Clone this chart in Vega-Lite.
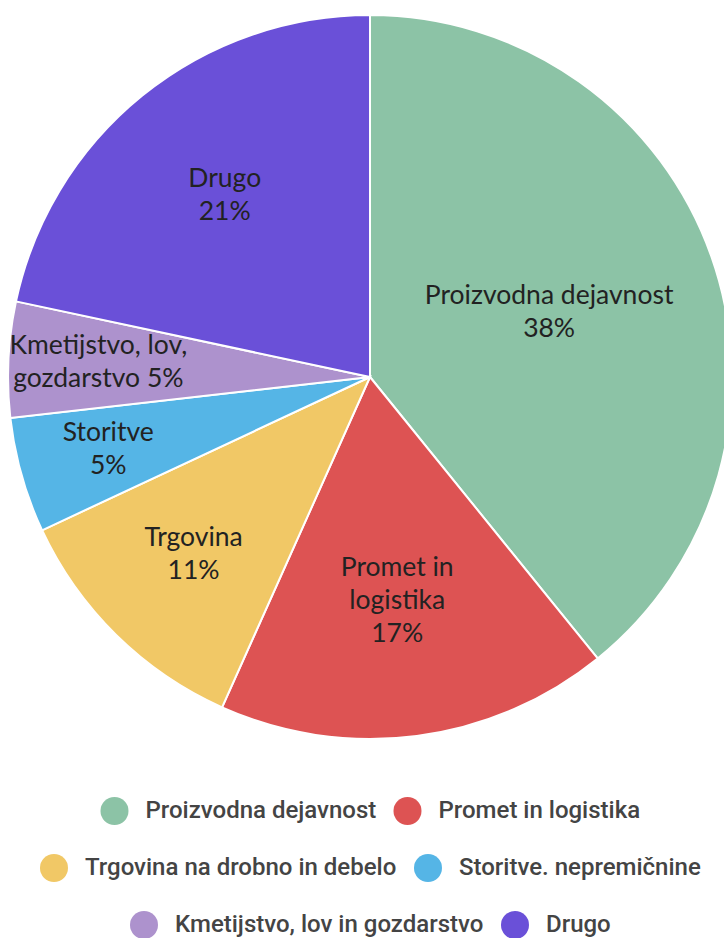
{
  "$schema": "https://vega.github.io/schema/vega-lite/v6.json",
  "width": 724,
  "height": 724,
  "padding": {"left": 4, "top": 11, "right": 0, "bottom": 0},
  "background": "white",
  "data": {
    "values": [
      {"idx": 1, "category": "Proizvodna dejavnost", "label": "Proizvodna dejavnost\n38%", "value": 38},
      {"idx": 2, "category": "Promet in logistika", "label": "Promet in\nlogistika\n17%", "value": 17},
      {"idx": 3, "category": "Trgovina na drobno in debelo", "label": "Trgovina\n11%", "value": 11},
      {"idx": 4, "category": "Storitve. nepremičnine", "label": "Storitve\n5%", "value": 5},
      {"idx": 5, "category": "Kmetijstvo, lov in gozdarstvo", "label": "Kmetijstvo, lov,\ngozdarstvo  5%", "value": 5},
      {"idx": 6, "category": "Drugo", "label": "Drugo\n21%", "value": 21}
    ]
  },
  "layer": [
    {
      "mark": {"type": "arc", "stroke": "white", "strokeWidth": 2},
      "encoding": {
        "theta": {"field": "value", "type": "quantitative", "stack": true},
        "order": {"field": "idx", "type": "quantitative"},
        "color": {
          "field": "category",
          "type": "nominal",
          "scale": {
            "domain": ["Proizvodna dejavnost", "Promet in logistika", "Trgovina na drobno in debelo", "Storitve. nepremičnine", "Kmetijstvo, lov in gozdarstvo", "Drugo"],
            "range": ["#8cc3a6", "#dd5353", "#f1c866", "#55b5e6", "#ad92cd", "#6a50d8"]
          },
          "legend": {"values": ["Proizvodna dejavnost", "Promet in logistika"], "title": null, "orient": "bottom", "direction": "horizontal"}
        }
      }
    },
    {
      "transform": [{"filter": {"field": "category", "oneOf": ["Trgovina na drobno in debelo", "Storitve. nepremičnine"]}}],
      "mark": {"type": "arc", "opacity": 0},
      "encoding": {
        "theta": {"field": "value", "type": "quantitative", "stack": true},
        "order": {"field": "idx", "type": "quantitative"},
        "color": {
          "field": "category",
          "type": "nominal",
          "scale": {"domain": ["Trgovina na drobno in debelo", "Storitve. nepremičnine"], "range": ["#f1c866", "#55b5e6"]},
          "legend": {"title": null, "orient": "bottom", "direction": "horizontal"}
        }
      }
    },
    {
      "transform": [{"filter": {"field": "category", "oneOf": ["Kmetijstvo, lov in gozdarstvo", "Drugo"]}}],
      "mark": {"type": "arc", "opacity": 0},
      "encoding": {
        "theta": {"field": "value", "type": "quantitative", "stack": true},
        "order": {"field": "idx", "type": "quantitative"},
        "color": {
          "field": "category",
          "type": "nominal",
          "scale": {"domain": ["Kmetijstvo, lov in gozdarstvo", "Drugo"], "range": ["#ad92cd", "#6a50d8"]},
          "legend": {"title": null, "orient": "bottom", "direction": "horizontal"}
        }
      }
    },
    {
      "mark": {"type": "text", "font": "Lato", "fontSize": 26.5, "lineBreak": "\n", "lineHeight": 33, "dy": -18, "fill": "#222222"},
      "encoding": {
        "theta": {"field": "value", "type": "quantitative", "stack": true},
        "order": {"field": "idx", "type": "quantitative"},
        "radius": {
          "field": "value",
          "type": "nominal",
          "scale": {
            "type": "point",
            "domain": [38, 17, 21, 11, 5],
            "range": [190, 272],
            "padding": 0
          },
          "legend": null
        },
        "text": {"field": "label"}
      }
    }
  ],
  "resolve": {"scale": {"color": "independent"}, "legend": {"color": "independent"}},
  "config": {
    "view": {"stroke": null},
    "legend": {
      "layout": {"bottom": {"direction": "vertical", "anchor": "middle", "center": true, "margin": 29, "offset": 58}},
      "offset": 58,
      "symbolType": "circle",
      "symbolSize": 784,
      "symbolStrokeWidth": 0,
      "symbolOpacity": 1,
      "labelFont": "Roboto",
      "labelFontSize": 24,
      "labelFontWeight": 500,
      "labelColor": "#444444",
      "labelOffset": 17,
      "columnPadding": 17,
      "labelLimit": 500
    }
  }
}
